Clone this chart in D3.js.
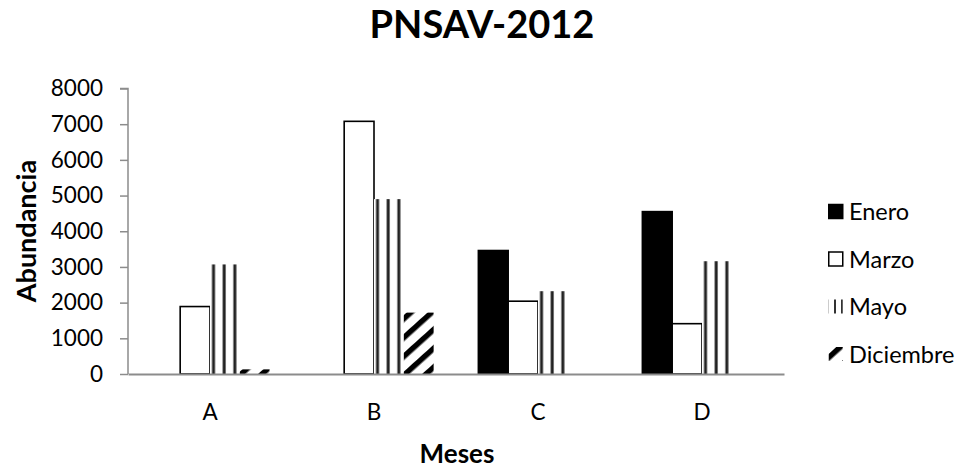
<!DOCTYPE html>
<html>
<head>
<meta charset="utf-8">
<script src="https://cdn.jsdelivr.net/npm/d3@7"></script>
<style>
  html, body { margin: 0; padding: 0; background: #fff; }
  svg { display: block; }
  text { font-family: Lato, "Noto Sans", sans-serif; fill: #000; }
</style>
</head>
<body>
<svg id="chart" width="963" height="468"></svg>
<script>
// Sites on the x axis
const categories = ["A", "B", "C", "D"];
// Sampling months (series)
const months = ["Enero", "Marzo", "Mayo", "Diciembre"];
// Abundance per month, one value per site A..D
const enero     = [0, 0, 3460, 4550];
const marzo     = [1890, 7080, 2040, 1410];
const mayo      = [3070, 4900, 2320, 3160];
const diciembre = [130, 1720, 0, 0];
const yTicks = [0, 1000, 2000, 3000, 4000, 5000, 6000, 7000, 8000];

const seriesValues = [enero, marzo, mayo, diciembre];
const rows = categories.map((c, i) => ({
  cat: c,
  vals: months.map((m, j) => ({ month: m, idx: j, value: seriesValues[j][i] }))
}));

const svg = d3.select("#chart");
const plot = { left: 128, right: 784, top: 88.5, bottom: 374 };

// Fill patterns for the hatched series
const defs = svg.append("defs");
const vpat = defs.append("pattern")
  .attr("id", "vlines").attr("patternUnits", "userSpaceOnUse")
  .attr("width", 10.67).attr("height", 10).attr("x", 1);
vpat.append("rect").attr("width", 10.67).attr("height", 10).attr("fill", "#fff");
vpat.append("rect").attr("x", 7.3).attr("width", 3).attr("height", 10).attr("fill", "#222");

// Smaller vertical-line swatch for the legend key
const vkey = defs.append("pattern")
  .attr("id", "vlinesKey").attr("patternUnits", "userSpaceOnUse")
  .attr("width", 7).attr("height", 10).attr("x", 830);
vkey.append("rect").attr("width", 7).attr("height", 10).attr("fill", "#fff");
vkey.append("rect").attr("x", 2).attr("width", 2).attr("height", 10).attr("fill", "#333");

const dpat = defs.append("pattern")
  .attr("id", "diag").attr("patternUnits", "userSpaceOnUse")
  .attr("width", 14).attr("height", 14)
  .attr("patternTransform", "rotate(-42)");
dpat.append("rect").attr("width", 14).attr("height", 14).attr("fill", "#fff");
dpat.append("rect").attr("y", 0).attr("width", 14).attr("height", 5.5).attr("fill", "#000");

const fills = ["#000", "#fff", "url(#vlines)", "url(#diag)"];
const keyFills = ["#000", "#fff", "url(#vlinesKey)", "url(#diag)"];
const strokes = ["#000", "#000", "none", "none"];

const x0 = d3.scaleBand().domain(categories).range([plot.left, plot.right]).paddingInner(0);
const bw = x0.bandwidth() / 5.5;
const x1 = d3.scaleBand().domain(months).range([0, bw * 4]);
const y = d3.scaleLinear().domain([0, 8000]).range([plot.bottom, plot.top]);

// Bars
const groups = svg.append("g").selectAll("g").data(rows).join("g")
  .attr("transform", d => `translate(${x0(d.cat) + (x0.bandwidth() - bw * 4) / 2},0)`);
groups.selectAll("rect").data(d => d.vals.filter(v => v.value > 0)).join("rect")
  .attr("x", d => x1(d.month))
  .attr("y", d => y(d.value))
  .attr("width", x1.bandwidth())
  .attr("height", d => y(0) - y(d.value))
  .attr("fill", d => fills[d.idx])
  .attr("stroke", d => strokes[d.idx])
  .attr("stroke-width", 1.6);

// Y axis
const yAxis = svg.append("g").attr("transform", `translate(${plot.left},0)`)
  .call(d3.axisLeft(y).tickValues(yTicks).tickSize(8).tickPadding(17).tickFormat(d3.format("d")));
yAxis.select(".domain").attr("stroke", "#8c8c8c").attr("stroke-width", 1.5)
  .attr("d", `M-8,${plot.top}H0V${plot.bottom}`);
yAxis.selectAll(".tick line").attr("stroke", "#8c8c8c").attr("stroke-width", 1.5);
yAxis.selectAll(".tick text").style("font-size", "22.5px").attr("fill", "#000");

// X axis
const xAxis = svg.append("g").attr("transform", `translate(0,${plot.bottom})`)
  .call(d3.axisBottom(x0).tickSize(0).tickPadding(30));
xAxis.select(".domain").attr("stroke", "#8c8c8c").attr("stroke-width", 2);
xAxis.selectAll(".tick text").style("font-size", "22.5px").attr("fill", "#000");

// Titles
svg.append("text").attr("x", 482).attr("y", 38).attr("text-anchor", "middle")
  .style("font-size", "38px").style("font-weight", "bold").text("PNSAV-2012");
svg.append("text").attr("x", 457).attr("y", 463).attr("text-anchor", "middle")
  .style("font-size", "26px").style("font-weight", "bold").text("Meses");
svg.append("text").attr("transform", "translate(36,231) rotate(-90)").attr("text-anchor", "middle")
  .style("font-size", "27px").style("font-weight", "bold").text("Abundancia");

// Legend
const legend = svg.append("g").selectAll("g").data(months).join("g")
  .attr("transform", (d, i) => `translate(828,${212 + i * 47.5})`);
legend.append("rect").attr("x", 0.75).attr("y", -7.5).attr("width", 14).attr("height", 14)
  .attr("fill", (d, i) => keyFills[i]).attr("stroke", (d, i) => strokes[i]).attr("stroke-width", 1.5);
legend.append("text").attr("x", 21).attr("y", 8).style("font-size", "23.5px").text(d => d);
</script>
</body>
</html>
